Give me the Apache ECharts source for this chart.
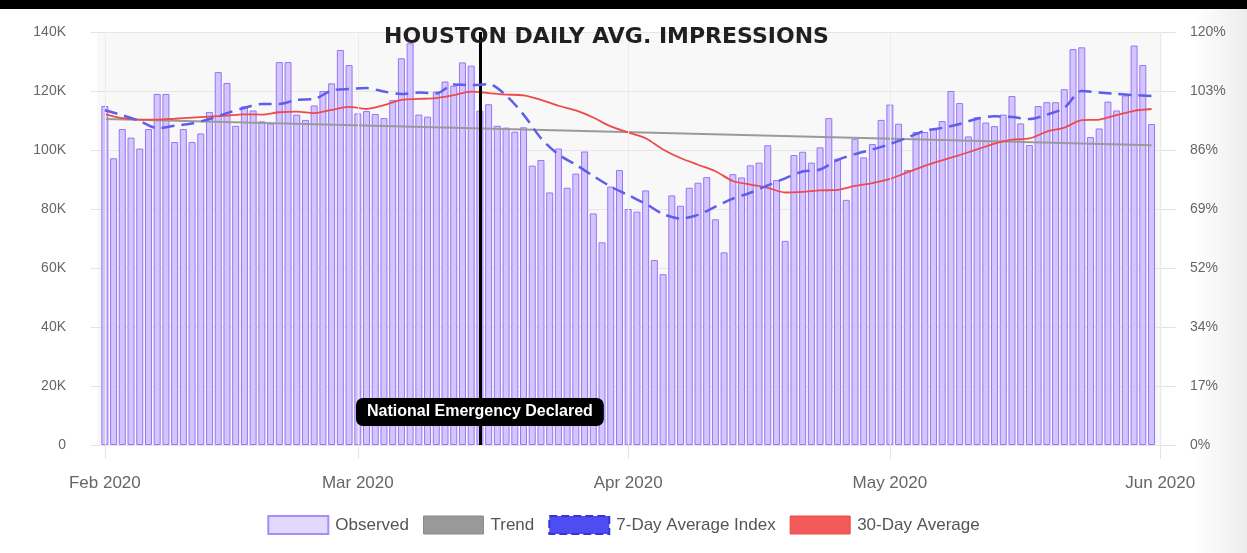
<!DOCTYPE html>
<html><head><meta charset="utf-8">
<script src="https://cdn.jsdelivr.net/npm/echarts@6/dist/echarts.min.js"></script>
<style>html,body{margin:0;padding:0;background:#fff}#c{width:1247px;height:553px}</style>
</head><body><div id="c"></div>
<script>
// ---- data (values in thousands; day index 0 = Feb 1 2020) ----
const chartTitle = 'HOUSTON DAILY AVG. IMPRESSIONS';
const monthTickDays = [0, 29, 60, 90, 121];
const monthTickLabels = ['Feb 2020', 'Mar 2020', 'Apr 2020', 'May 2020', 'Jun 2020'];
const leftTickLabels = ['0', '20K', '40K', '60K', '80K', '100K', '120K', '140K'];
const rightTickLabels = ['0%', '17%', '34%', '52%', '69%', '86%', '103%', '120%'];
const seriesNames = ['Observed', 'Trend', '7-Day Average Index', '30-Day Average'];

const observedK = [
  114.9, 97.2, 107.1, 104.2, 100.5, 107.1, 119.0, 119.0, 102.7, 107.1, 102.7, 105.6, 112.9, 126.4, 122.7, 108.2,
  114.8, 113.4, 109.7, 109.0, 129.8, 129.8, 112.0, 110.2, 115.1, 120.0, 122.6, 133.9, 128.8, 112.4, 113.2, 112.2,
  110.8, 116.9, 131.1, 136.2, 112.0, 111.3, 119.8, 123.2, 121.8, 129.7, 128.6, 113.3, 115.5, 108.2, 107.6, 106.2,
  107.7, 94.7, 96.6, 85.6, 100.5, 87.2, 92.0, 99.5, 78.5, 68.7, 87.6, 93.2, 80.0, 79.1, 86.3, 62.7,
  57.9, 84.6, 81.1, 87.2, 88.9, 90.8, 76.5, 65.3, 91.8, 90.7, 94.8, 95.7, 101.6, 89.8, 69.2, 98.3,
  99.4, 95.7, 100.9, 110.8, 97.1, 83.1, 103.8, 97.5, 102.0, 110.2, 115.4, 108.9, 93.2, 106.1, 106.1, 107.0,
  109.8, 120.0, 115.9, 104.6, 111.1, 109.3, 108.1, 112.0, 118.3, 109.0, 101.7, 114.9, 116.2, 116.2, 120.6, 134.2,
  134.8, 104.4, 107.3, 116.4, 113.4, 118.5, 135.4, 128.8, 108.8
];
const trendK = [[0, 110.5], [120, 101.6]];
const avg7K = [[0,113.5],[2,111.8],[4,109.8],[6,107.4],[8,108.2],[10,109.0],[12,110.5],[14,112.5],[16,114.3],[18,115.6],[20,115.6],[22,117.0],[24,117.3],[26,120.2],[28,120.7],[30,121.0],[32,119.8],[34,119.0],[36,119.5],[38,119.2],[40,122.2],[42,122.0],[44,122.3],[46,118.5],[48,112.0],[50,104.0],[52,98.5],[54,95.0],[56,91.2],[58,87.6],[60,84.7],[62,81.8],[64,78.3],[66,76.8],[68,78.0],[70,80.8],[72,83.5],[74,85.5],[76,88.0],[78,90.4],[80,92.7],[82,93.4],[84,96.6],[86,98.6],[88,100.2],[90,102.0],[92,104.2],[94,106.5],[96,107.5],[98,108.8],[100,110.6],[102,111.4],[104,111.2],[106,110.5],[108,112.0],[110,114.3],[112,120.0],[114,119.5],[116,119.0],[118,118.6],[120,118.3]];
const avg30K = [[0,112.2],[2,110.8],[4,110.3],[6,110.3],[8,110.6],[10,111.0],[12,111.3],[14,111.7],[16,112.1],[18,112.0],[20,112.8],[22,113.0],[24,112.5],[26,113.6],[28,114.6],[30,113.9],[32,115.2],[34,117.0],[36,117.3],[38,117.6],[40,118.6],[42,119.8],[44,119.3],[46,118.8],[48,118.5],[50,117.0],[52,115.0],[54,113.4],[56,111.0],[58,108.0],[60,106.0],[62,104.0],[64,100.2],[66,97.3],[68,95.0],[70,92.8],[72,89.5],[74,88.3],[76,87.2],[78,85.6],[80,85.8],[82,86.3],[84,86.5],[86,87.8],[88,88.8],[90,90.2],[92,92.4],[94,94.6],[96,96.5],[98,98.3],[100,100.2],[102,102.2],[104,103.5],[106,103.9],[108,106.2],[110,107.6],[112,110.1],[114,110.3],[116,111.8],[118,113.3],[120,113.9]];
const eventDay = 43;
const eventLabel = 'National Emergency Declared';
const eventLabelK = 11.2;

// ---- chart ----
const FONT = '"Liberation Sans", Arial, sans-serif';
const chart = echarts.init(document.getElementById('c'), null, { renderer: 'canvas' });

const monthLines = monthTickDays.map(d => ({ xAxis: d, lineStyle: { color: '#ececec', width: 1, type: 'solid' } }));
const eventLine = { xAxis: eventDay, lineStyle: { color: '#000', width: 3, type: 'solid' } };

chart.setOption({
  animation: false,
  backgroundColor: '#fff',
  title: {
    text: chartTitle, left: 379, top: 21,
    textStyle: { fontFamily: '"DejaVu Sans", sans-serif', fontWeight: 'bold', fontSize: 22, color: '#231f20' }
  },
  graphic: [
    { type: 'rect', left: 0, top: 0, shape: { width: 1247, height: 9 }, style: { fill: '#000' }, z: 100 },
    { type: 'rect', left: 1195, top: 9, shape: { width: 52, height: 544 },
      style: { fill: new echarts.graphic.LinearGradient(0, 0, 1, 0, [{ offset: 0, color: '#ffffff' }, { offset: 1, color: '#ececec' }]) }, z: -1 }
  ],
  grid: { left: 97, right: 85, top: 32, bottom: 108, show: true, backgroundColor: '#f8f8f8', borderWidth: 0 },
  legend: {
    bottom: 13, left: 'center', itemWidth: 60, itemHeight: 18, itemGap: 14, icon: 'rect',
    textStyle: { fontFamily: FONT, fontSize: 17, color: '#555', padding: [0, 0, 0, 2] },
    data: [
      { name: seriesNames[0], itemStyle: { color: '#e2d9ff', borderColor: '#a88cff', borderWidth: 2 } },
      { name: seriesNames[1], itemStyle: { color: '#999999', borderColor: '#8a8a8a', borderWidth: 1 } },
      { name: seriesNames[2], itemStyle: { color: '#4d4df2', borderColor: '#3535e0', borderWidth: 2, borderType: 'dashed' } },
      { name: seriesNames[3], itemStyle: { color: '#f25a5a', borderColor: '#ee4848', borderWidth: 1 } }
    ]
  },
  xAxis: {
    type: 'value', min: -0.9, max: 121.2,
    axisLine: { show: false },
    axisTick: { show: true, customValues: monthTickDays, length: 14, lineStyle: { color: '#e3e3e3' } },
    splitLine: { show: false },
    axisLabel: {
      customValues: monthTickDays, margin: 30, fontFamily: FONT, fontSize: 17, color: '#666',
      formatter: v => monthTickLabels[monthTickDays.indexOf(Math.round(v))] || ''
    }
  },
  yAxis: [
    {
      type: 'value', min: 0, max: 140, interval: 20,
      axisLine: { show: false },
      axisTick: { show: true, length: 14, lineStyle: { color: '#e3e3e3' } },
      splitLine: { show: true, lineStyle: { color: '#e6e6e6' } },
      axisLabel: { margin: 31, fontFamily: FONT, fontSize: 14, color: '#666', formatter: v => leftTickLabels[Math.round(v / 20)] }
    },
    {
      type: 'value', min: 0, max: 7, interval: 1, position: 'right',
      axisLine: { show: false },
      axisTick: { show: true, length: 14, lineStyle: { color: '#e3e3e3' } },
      splitLine: { show: false },
      axisLabel: { margin: 28, fontFamily: FONT, fontSize: 14, color: '#666', formatter: v => rightTickLabels[Math.round(v)] }
    }
  ],
  series: [
    {
      name: seriesNames[0], type: 'bar', barWidth: 7,
      data: observedK.map((v, i) => [i, v]),
      itemStyle: { color: '#d4c5ff', borderColor: '#9676f3', borderWidth: 1 },
      markLine: {
        silent: true, symbol: 'none', animation: false,
        label: { show: false },
        data: monthLines.concat([eventLine])
      },
      z: 2
    },
    {
      name: seriesNames[1], type: 'line', data: trendK, showSymbol: false,
      lineStyle: { color: '#9a9a9a', width: 2 }, itemStyle: { color: '#999' }, z: 3
    },
    {
      name: seriesNames[3], type: 'line', data: avg30K, showSymbol: false, smooth: 0.3,
      lineStyle: { color: '#ee4a4a', width: 1.8 }, itemStyle: { color: '#f25a5a' }, z: 4
    },
    {
      name: seriesNames[2], type: 'line', data: avg7K, showSymbol: false, smooth: 0.3,
      lineStyle: { color: '#5e5eea', width: 2.5, type: [13, 7] }, itemStyle: { color: '#4d4df2' }, z: 5
    },
    {
      name: 'event', type: 'scatter', data: [[eventDay, eventLabelK]], symbolSize: 0, silent: true, z: 10,
      itemStyle: { opacity: 1 },
      label: {
        show: true, position: 'inside', formatter: eventLabel,
        fontFamily: FONT, fontWeight: 'bold', fontSize: 16, color: '#fff',
        backgroundColor: '#000', borderRadius: 7, padding: [6, 11]
      }
    }
  ]
});
</script></body></html>
